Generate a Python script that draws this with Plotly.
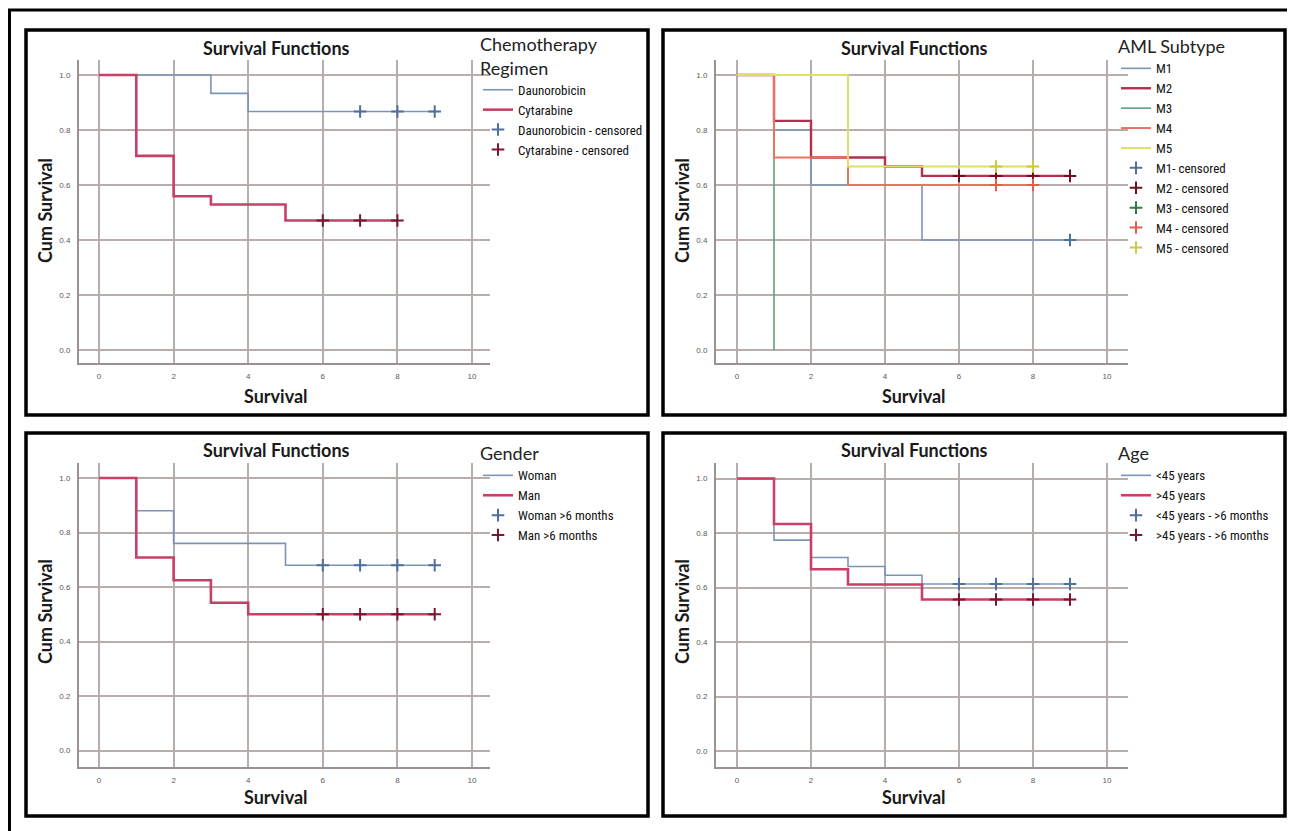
import plotly.graph_objects as go

W, H = 1295, 831
OFF = 8  # page body margin offset in the screenshot

# ---------------- data ----------------
x_ticks = [0, 2, 4, 6, 8, 10]
x_tick_labels = ["0", "2", "4", "6", "8", "10"]
y_ticks = [0.0, 0.2, 0.4, 0.6, 0.8, 1.0]
y_tick_labels = ["0.0", "0.2", "0.4", "0.6", "0.8", "1.0"]

# Panel 1 - Chemotherapy Regimen
dauno_t = [0, 3, 4, 9]
dauno_s = [1.0, 0.933, 0.867, 0.867]
dauno_cens_t = [7, 8, 9]
dauno_cens_s = [0.867, 0.867, 0.867]
cyta_t = [0, 1, 2, 3, 5, 8]
cyta_s = [1.0, 0.706, 0.559, 0.529, 0.471, 0.471]
cyta_cens_t = [6, 7, 8]
cyta_cens_s = [0.471, 0.471, 0.471]

# Panel 2 - AML Subtype
m1_t = [0, 1, 2, 5, 9]
m1_s = [1.0, 0.8, 0.6, 0.4, 0.4]
m1_cens_t = [9]
m1_cens_s = [0.4]
m2_t = [0, 1, 2, 4, 5, 9]
m2_s = [1.0, 0.833, 0.7, 0.667, 0.633, 0.633]
m2_cens_t = [6, 7, 8, 9]
m2_cens_s = [0.633, 0.633, 0.633, 0.633]
m3_t = [0, 1]
m3_s = [1.0, 0.0]
m3_cens_t = [None]
m3_cens_s = [None]
m4_t = [0, 1, 3, 8]
m4_s = [1.0, 0.7, 0.6, 0.6]
m4_cens_t = [7, 8]
m4_cens_s = [0.6, 0.6]
m5_t = [0, 3, 8]
m5_s = [1.0, 0.667, 0.667]
m5_cens_t = [7, 8]
m5_cens_s = [0.667, 0.667]

# Panel 3 - Gender
woman_t = [0, 1, 2, 5, 9]
woman_s = [1.0, 0.88, 0.76, 0.68, 0.68]
woman_cens_t = [6, 7, 8, 9]
woman_cens_s = [0.68, 0.68, 0.68, 0.68]
man_t = [0, 1, 2, 3, 4, 9]
man_s = [1.0, 0.708, 0.625, 0.542, 0.5, 0.5]
man_cens_t = [6, 7, 8, 9]
man_cens_s = [0.5, 0.5, 0.5, 0.5]

# Panel 4 - Age
young_t = [0, 1, 2, 3, 4, 5, 9]
young_s = [1.0, 0.774, 0.71, 0.677, 0.645, 0.613, 0.613]
young_cens_t = [6, 7, 8, 9]
young_cens_s = [0.613, 0.613, 0.613, 0.613]
old_t = [0, 1, 2, 3, 5, 9]
old_s = [1.0, 0.833, 0.667, 0.611, 0.556, 0.556]
old_cens_t = [6, 7, 8, 9]
old_cens_s = [0.556, 0.556, 0.556, 0.556]

# ---------------- styling ----------------
BLUE = "#7b95b6"
BLUE_DARK = "#4f6f9c"
RED = "#c93f66"
RED_DARK = "#7c1530"
M_COLORS = ["#7b95b6", "#b3304f", "#62a277", "#e8735f", "#dede6a"]
M_CENS = ["#4f6f9c", "#6e0f22", "#2f7a47", "#e0604c", "#caca40"]
GRID = "#b8adad"
AXIS = "#9c9191"
TITLE_FONT = "Lato, Carlito, 'Open Sans', sans-serif"
LEG_FONT = "'Liberation Sans Narrow', 'Roboto Condensed', 'Liberation Sans', sans-serif"


def px2x(p):
    return (p - OFF) / W


def py2y(p):
    return 1 - (p - OFF) / H


# plot-area geometry in screen pixels for the four panels
panels = [
    dict(L=79, R=490, T=60, B=363, x0=99, sx=37.3, y0=350, sy=275),
    dict(L=716, R=1128, T=60, B=363, x0=737, sx=37.0, y0=350, sy=275),
    dict(L=79, R=490, T=463, B=767, x0=99, sx=37.3, y0=750.5, sy=272.5),
    dict(L=716, R=1128, T=463, B=767, x0=737, sx=37.0, y0=751, sy=272.5),
]

fig = go.Figure()


def step(i, t, s, name, color, width, legend):
    sfx = "" if i == 0 else str(i + 1)
    fig.add_trace(go.Scatter(
        x=t, y=s, mode="lines", line=dict(shape="hv", color=color, width=width),
        name=name, xaxis="x" + sfx, yaxis="y" + sfx, legend=legend,
        hoverinfo="skip"))


def cens(i, t, s, name, color, legend):
    sfx = "" if i == 0 else str(i + 1)
    fig.add_trace(go.Scatter(
        x=t, y=s, mode="markers",
        marker=dict(symbol="cross-thin", size=9, line=dict(color=color, width=2), color=color),
        name=name, xaxis="x" + sfx, yaxis="y" + sfx, legend=legend,
        hoverinfo="skip"))


# panel 1
step(0, dauno_t, dauno_s, "Daunorobicin", BLUE, 1.6, "legend")
step(0, cyta_t, cyta_s, "Cytarabine", RED, 2.6, "legend")
cens(0, dauno_cens_t, dauno_cens_s, "Daunorobicin - censored", BLUE_DARK, "legend")
cens(0, cyta_cens_t, cyta_cens_s, "Cytarabine - censored", RED_DARK, "legend")

# panel 2
m_t = [m1_t, m2_t, m3_t, m4_t, m5_t]
m_s = [m1_s, m2_s, m3_s, m4_s, m5_s]
m_ct = [m1_cens_t, m2_cens_t, m3_cens_t, m4_cens_t, m5_cens_t]
m_cs = [m1_cens_s, m2_cens_s, m3_cens_s, m4_cens_s, m5_cens_s]
m_names = ["M1", "M2", "M3", "M4", "M5"]
m_cens_names = ["M1- censored", "M2 - censored", "M3 - censored", "M4 - censored", "M5 - censored"]
m_widths = [1.6, 2.4, 1.6, 2.0, 2.0]
for k in range(5):
    step(1, m_t[k], m_s[k], m_names[k], M_COLORS[k], m_widths[k], "legend2")
for k in range(5):
    cens(1, m_ct[k], m_cs[k], m_cens_names[k], M_CENS[k], "legend2")

# panel 3
step(2, woman_t, woman_s, "Woman", BLUE, 1.6, "legend3")
step(2, man_t, man_s, "Man", RED, 2.6, "legend3")
cens(2, woman_cens_t, woman_cens_s, "Woman &gt;6 months", BLUE_DARK, "legend3")
cens(2, man_cens_t, man_cens_s, "Man &gt;6 months", RED_DARK, "legend3")

# panel 4
step(3, young_t, young_s, "&lt;45 years", BLUE, 1.6, "legend4")
step(3, old_t, old_s, "&gt;45 years", RED, 2.6, "legend4")
cens(3, young_cens_t, young_cens_s, "&lt;45 years - &gt;6 months", BLUE_DARK, "legend4")
cens(3, old_cens_t, old_cens_s, "&gt;45 years - &gt;6 months", RED_DARK, "legend4")

layout = dict(
    width=W, height=H, margin=dict(l=0, r=0, t=0, b=0),
    paper_bgcolor="white", plot_bgcolor="white", showlegend=True,
)

tick_font = dict(family="'Liberation Sans', Arial, sans-serif", size=8, color="#5a5a5a")

for i, p in enumerate(panels):
    sfx = "" if i == 0 else str(i + 1)
    layout["xaxis" + sfx] = dict(
        domain=[px2x(p["L"]), px2x(p["R"])],
        range=[(p["L"] - p["x0"]) / p["sx"], (p["R"] - p["x0"]) / p["sx"]],
        anchor="y" + sfx, tickmode="array", tickvals=x_ticks, ticktext=x_tick_labels,
        showgrid=True, gridcolor=GRID, gridwidth=1.5, zeroline=False,
        showline=True, linecolor=AXIS, linewidth=2, ticks="",
        tickfont=tick_font, ticklabelstandoff=4, fixedrange=True,
    )
    layout["yaxis" + sfx] = dict(
        domain=[py2y(p["B"]), py2y(p["T"])],
        range=[(p["y0"] - p["B"]) / p["sy"], (p["y0"] - p["T"]) / p["sy"]],
        anchor="x" + sfx, tickmode="array", tickvals=y_ticks, ticktext=y_tick_labels,
        showgrid=True, gridcolor=GRID, gridwidth=1.5, zeroline=False,
        showline=True, linecolor=AXIS, linewidth=2, ticks="",
        tickfont=tick_font, ticklabelstandoff=5, fixedrange=True,
    )

leg_titles = ["Chemotherapy<br>Regimen", "AML Subtype", "Gender", "Age"]
leg_pos = [(478, 28), (1116, 30), (478, 437), (1116, 437)]
for i, (title, (lx, ly)) in enumerate(zip(leg_titles, leg_pos)):
    key = "legend" if i == 0 else "legend" + str(i + 1)
    layout[key] = dict(
        x=px2x(lx), y=py2y(ly), xanchor="left", yanchor="top",
        title=dict(text=title, font=dict(family=TITLE_FONT, size=18, color="#222")),
        font=dict(family=LEG_FONT, size=13, color="#111"),
        bgcolor="rgba(0,0,0,0)", borderwidth=0, itemwidth=30, tracegroupgap=0,
    )

# panel frames and outer frame (outer frame's right/bottom sides fall outside the picture)
frames = [(26, 30, 648, 415), (663, 30, 1285, 415), (26, 433, 648, 816), (663, 433, 1285, 816)]
shapes = [dict(type="rect", xref="paper", yref="paper", x0=px2x(9.5), y0=py2y(10),
               x1=px2x(1310), y1=py2y(850), line=dict(color="black", width=3))]
for (a, b, c, d) in frames:
    shapes.append(dict(type="rect", xref="paper", yref="paper",
                       x0=px2x(a), y0=py2y(b), x1=px2x(c), y1=py2y(d),
                       line=dict(color="black", width=3.5)))
layout["shapes"] = shapes

annotations = []
title_pos = [(276, 48), (914, 48), (276, 450), (914, 450)]
ylab_pos = [(45, 211), (682, 211), (45, 612), (682, 612)]
xlab_pos = [(276, 396), (914, 396), (276, 797), (914, 797)]
for (tx, ty) in title_pos:
    annotations.append(dict(text="<b>Survival Functions</b>", x=px2x(tx), y=py2y(ty),
                            xref="paper", yref="paper", showarrow=False,
                            xanchor="center", yanchor="middle",
                            font=dict(family=TITLE_FONT, size=18, color="#1a1a1a")))
for (tx, ty) in ylab_pos:
    annotations.append(dict(text="<b>Cum Survival</b>", x=px2x(tx), y=py2y(ty),
                            xref="paper", yref="paper", showarrow=False, textangle=-90,
                            xanchor="center", yanchor="middle",
                            font=dict(family=TITLE_FONT, size=18, color="#1a1a1a")))
for (tx, ty) in xlab_pos:
    annotations.append(dict(text="<b>Survival</b>", x=px2x(tx), y=py2y(ty),
                            xref="paper", yref="paper", showarrow=False,
                            xanchor="center", yanchor="middle",
                            font=dict(family=TITLE_FONT, size=18, color="#1a1a1a")))
layout["annotations"] = annotations

fig.update_layout(**layout)
fig.write_html("out.html")
